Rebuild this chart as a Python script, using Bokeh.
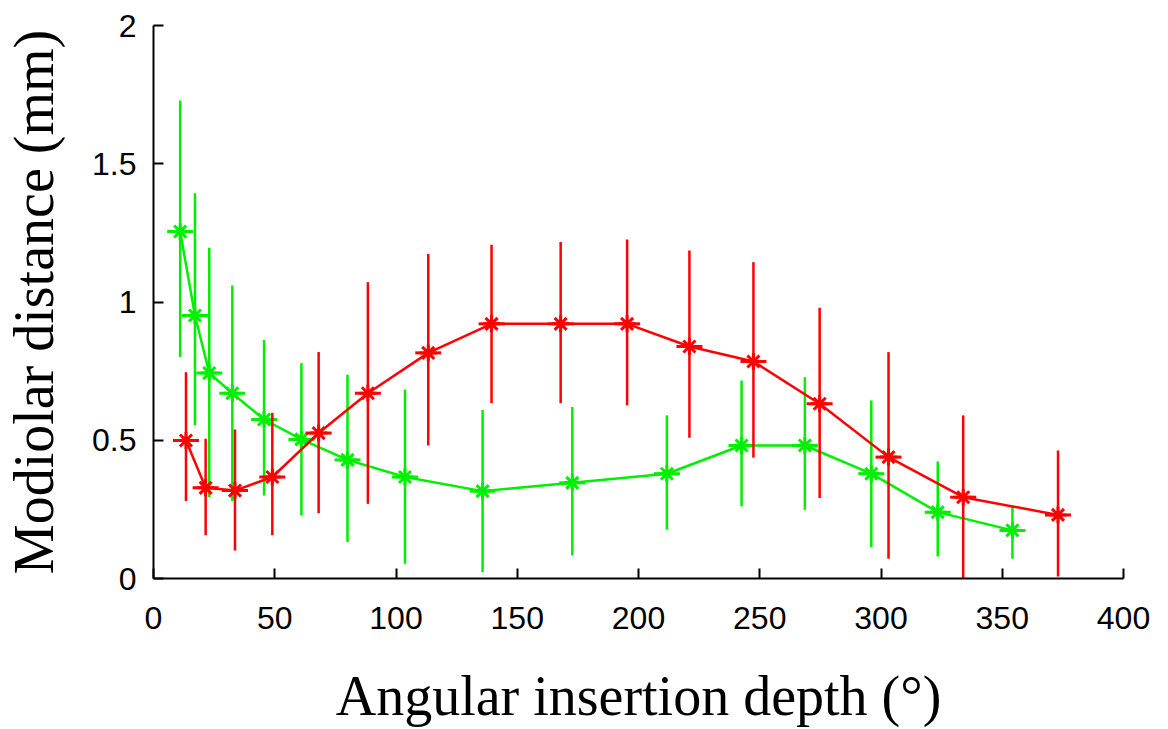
from bokeh.plotting import figure
from bokeh.models import Range1d, FixedTicker, ColumnDataSource
from bokeh.embed import file_html
from bokeh.resources import INLINE

# ---- data ----
green_x = [11.0, 17.1, 23.0, 32.5, 45.6, 61.0, 80.0, 103.7, 135.7, 172.7, 211.7, 242.5, 268.6, 296.0, 323.4, 354.2]
green_y = [1.255, 0.951, 0.743, 0.670, 0.575, 0.503, 0.429, 0.367, 0.316, 0.346, 0.379, 0.481, 0.481, 0.379, 0.240, 0.174]
green_hi = [1.729, 1.393, 1.196, 1.060, 0.863, 0.779, 0.737, 0.683, 0.610, 0.620, 0.590, 0.716, 0.728, 0.644, 0.423, 0.264]
green_lo = [0.801, 0.553, 0.294, 0.280, 0.300, 0.228, 0.132, 0.053, 0.023, 0.083, 0.176, 0.261, 0.249, 0.113, 0.080, 0.071]

red_x = [13.4, 21.5, 33.6, 49.0, 68.1, 88.4, 113.3, 139.4, 167.9, 195.3, 221.0, 247.4, 274.7, 303.1, 333.9, 373.0]
red_y = [0.499, 0.328, 0.318, 0.367, 0.526, 0.670, 0.816, 0.921, 0.921, 0.921, 0.839, 0.785, 0.632, 0.439, 0.294, 0.230]
red_hi = [0.746, 0.505, 0.539, 0.599, 0.819, 1.072, 1.174, 1.207, 1.217, 1.226, 1.186, 1.144, 0.979, 0.819, 0.590, 0.463]
red_lo = [0.280, 0.156, 0.101, 0.156, 0.236, 0.270, 0.481, 0.634, 0.634, 0.626, 0.509, 0.437, 0.291, 0.071, -0.010, 0.007]

x_ticks = [0, 50, 100, 150, 200, 250, 300, 350, 400]
y_ticks = [0, 0.5, 1, 1.5, 2]
y_tick_labels = ["0", "0.5", "1", "1.5", "2"]

GREEN = "#00ee00"
RED = "#ff0000"

p = figure(width=1158, height=729, output_backend="svg", toolbar_location=None,
           x_range=Range1d(0, 400), y_range=Range1d(0, 2),
           min_border_left=150, min_border_right=35, min_border_top=25, min_border_bottom=151)
p.outline_line_color = None
p.xgrid.visible = False
p.ygrid.visible = False
p.background_fill_color = "white"

for ax in (p.xaxis, p.yaxis):
    ax.major_tick_in = 10
    ax.major_tick_out = 0
    ax.minor_tick_line_color = None
    ax.axis_line_width = 2
    ax.major_tick_line_width = 2
    ax.axis_line_color = "black"
    ax.major_tick_line_color = "black"
    ax.major_label_text_font = "'Liberation Sans', sans-serif"
    ax.major_label_text_font_size = "32px"
    ax.major_label_text_color = "black"
    ax.axis_label_text_font = "'Liberation Serif', serif"
    ax.axis_label_text_font_size = "56px"
    ax.axis_label_text_font_style = "normal"
    ax.axis_label_text_color = "black"

p.xaxis.ticker = FixedTicker(ticks=x_ticks)
p.yaxis.ticker = FixedTicker(ticks=y_ticks)
p.yaxis.major_label_overrides = {t: l for t, l in zip(y_ticks, y_tick_labels)}
p.xaxis.major_label_standoff = 28
p.yaxis.major_label_standoff = 17
p.xaxis.axis_label = "Angular insertion depth (°)"
p.yaxis.axis_label = "Modiolar distance (mm)"
p.xaxis.axis_label_standoff = 33
p.yaxis.axis_label_standoff = 24

def series(xs, ys, lo, hi, color):
    src = ColumnDataSource(dict(x=xs, y=ys, lo=lo, hi=hi))
    p.segment(x0="x", y0="lo", x1="x", y1="hi", source=src, line_color=color, line_width=2.5)
    p.line("x", "y", source=src, line_color=color, line_width=2.5)
    p.scatter("x", "y", source=src, marker="dash", size=26, line_color=color, line_width=3)
    p.scatter("x", "y", source=src, marker="asterisk", size=17, line_color=color, line_width=3)

series(green_x, green_y, green_lo, green_hi, GREEN)
series(red_x, red_y, red_lo, red_hi, RED)

open("out.html", "w").write(file_html(p, INLINE))
